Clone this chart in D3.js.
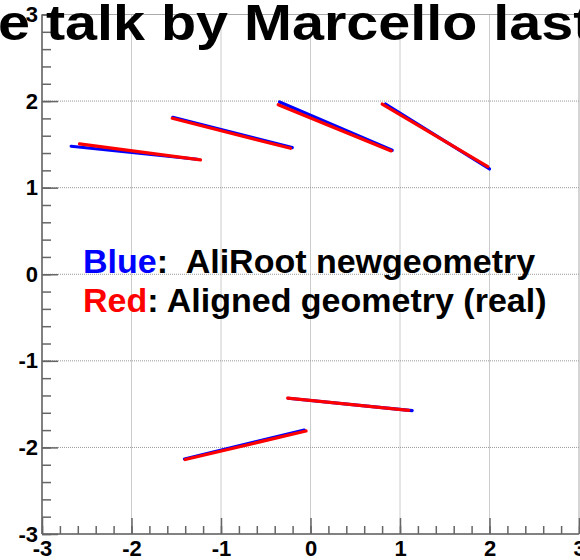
<!DOCTYPE html>
<html>
<head>
<meta charset="utf-8">
<script src="https://cdn.jsdelivr.net/npm/d3@7"></script>
<style>
  html, body { margin: 0; padding: 0; background: #fff; }
  svg { display: block; }
  text { font-family: "Liberation Sans", Arial, Helvetica, sans-serif; font-weight: bold; }
</style>
</head>
<body>
<svg id="chart" width="580" height="560"></svg>
<script>
// Track segments: [x1, y1, x2, y2]
const blueSegments = [
  [-2.674,  1.478, -1.266,  1.328],
  [-1.539,  1.813, -0.204,  1.462],
  [-0.346,  1.990,  0.913,  1.432],
  [ 0.838,  1.966,  2.000,  1.216],
  [-0.249, -1.432,  1.136, -1.575],
  [-1.408, -2.133, -0.070, -1.800]
];
const redSegments = [
  [-2.581,  1.505, -1.229,  1.320],
  [-1.545,  1.801, -0.224,  1.455],
  [-0.361,  1.958,  0.902,  1.424],
  [ 0.801,  1.966,  1.981,  1.242],
  [-0.255, -1.430,  1.098, -1.572],
  [-1.400, -2.140, -0.050, -1.810]
];
const xTicks = [-3, -2, -1, 0, 1, 2, 3];
const yTicks = [-3, -2, -1, 0, 1, 2, 3];
const minorTicks = d3.range(-30, 31, 2).map(v => v / 10);
const titleText = "e talk by Marcello last";
const legendLines = [
  { key: "Blue", color: "#0000ff", rest: ":  AliRoot newgeometry" },
  { key: "Red",  color: "#ff0000", rest: ": Aligned geometry (real)" }
];

const svg = d3.select("#chart");
const x = d3.scaleLinear().domain([-3, 3]).range([42, 579]);
const y = d3.scaleLinear().domain([-3, 3]).range([534, 14.5]);

const axisColor = "#666";
const plainNumber = d => String(d);   // ASCII hyphen for negatives

// dotted grid
const grid = svg.append("g");
grid.selectAll("line.v").data(xTicks.slice(1, -1)).join("line")
  .attr("x1", d => x(d)).attr("x2", d => x(d))
  .attr("y1", y(3)).attr("y2", y(-3))
  .attr("stroke", "#999").attr("stroke-width", 1).attr("stroke-dasharray", "1,1");
grid.selectAll("line.h").data(yTicks.slice(1, -1)).join("line")
  .attr("x1", x(-3)).attr("x2", x(3))
  .attr("y1", d => y(d)).attr("y2", d => y(d))
  .attr("stroke", "#999").attr("stroke-width", 1).attr("stroke-dasharray", "1,1");

// frame
svg.append("rect")
  .attr("x", x(-3)).attr("y", y(3))
  .attr("width", x(3) - x(-3)).attr("height", y(-3) - y(3))
  .attr("fill", "none").attr("stroke", "#aaa").attr("stroke-width", 1);

function styleAxis(g) {
  g.select(".domain").remove();
  g.selectAll(".tick line").attr("stroke", axisColor).attr("stroke-width", 1.5);
}
function styleLabels(g) {
  g.select(".domain").remove();
  g.selectAll("text").attr("font-size", 22).attr("fill", "#000")
    .attr("font-family", "'Liberation Sans', Arial, sans-serif").attr("font-weight", "bold");
}

// x axis: ticks pointing inward, labels below
svg.append("g").attr("transform", `translate(0,${y(-3)})`)
  .call(d3.axisTop(x).tickValues(minorTicks).tickSize(8).tickFormat(""))
  .call(styleAxis);
svg.append("g").attr("transform", `translate(0,${y(-3)})`)
  .call(d3.axisTop(x).tickValues(xTicks).tickSize(16).tickFormat(""))
  .call(styleAxis);
svg.append("g").attr("transform", `translate(0,${y(-3)})`)
  .call(d3.axisBottom(x).tickValues(xTicks).tickSize(0).tickPadding(6).tickFormat(plainNumber))
  .call(styleLabels);

// y axis: ticks pointing inward, labels to the left
svg.append("g").attr("transform", `translate(${x(-3)},0)`)
  .call(d3.axisRight(y).tickValues(minorTicks).tickSize(9).tickFormat(""))
  .call(styleAxis);
svg.append("g").attr("transform", `translate(${x(-3)},0)`)
  .call(d3.axisRight(y).tickValues(yTicks).tickSize(16).tickFormat(""))
  .call(styleAxis);
svg.append("g").attr("transform", `translate(${x(-3)},0)`)
  .call(d3.axisLeft(y).tickValues(yTicks).tickSize(0).tickPadding(4).tickFormat(plainNumber))
  .call(styleLabels);

// axis lines
svg.append("line").attr("x1", x(-3)).attr("x2", x(3)).attr("y1", y(-3)).attr("y2", y(-3))
  .attr("stroke", axisColor).attr("stroke-width", 1.5);
svg.append("line").attr("x1", x(-3)).attr("x2", x(-3)).attr("y1", y(-3)).attr("y2", y(3))
  .attr("stroke", axisColor).attr("stroke-width", 1.5);

// segments: blue first, red on top
function drawSegments(data, color) {
  svg.append("g").selectAll("line").data(data).join("line")
    .attr("x1", d => x(d[0])).attr("y1", d => y(d[1]))
    .attr("x2", d => x(d[2])).attr("y2", d => y(d[3]))
    .attr("stroke", color).attr("stroke-width", 3.2).attr("stroke-linecap", "round");
}
drawSegments(blueSegments, "#0000ff");
drawSegments(redSegments, "#ff0000");

// legend text
const legend = svg.append("g");
legendLines.forEach((l, i) => {
  const t = legend.append("text")
    .attr("x", 83).attr("y", 273 + i * 38.5)
    .attr("font-size", 34).attr("fill", "#000");
  t.append("tspan").attr("fill", l.color).text(l.key);
  t.append("tspan").style("white-space", "pre").text(l.rest);
});

// title
svg.append("text")
  .attr("transform", "translate(-2,40) scale(1.15,1)")
  .attr("font-size", 50).attr("fill", "#000")
  .text(titleText);
</script>
</body>
</html>
